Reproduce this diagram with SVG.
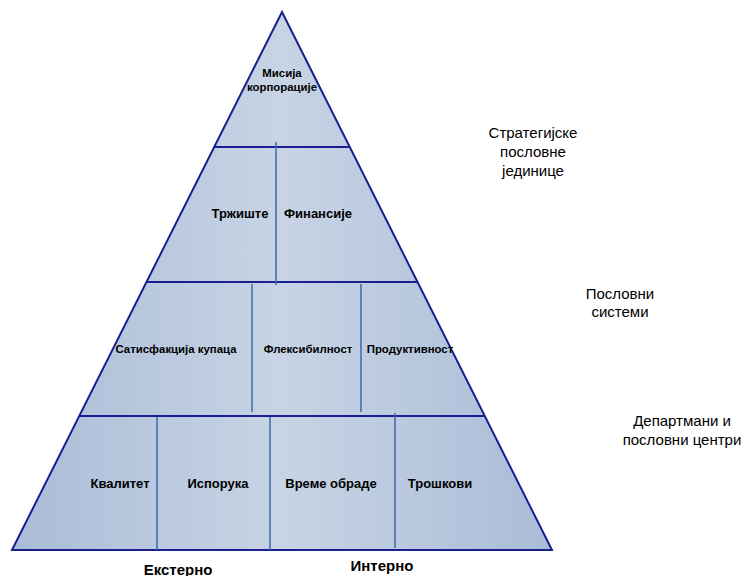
<svg xmlns="http://www.w3.org/2000/svg" width="744" height="576" viewBox="0 0 744 576">
  <defs>
    <linearGradient id="tierFill" gradientUnits="userSpaceOnUse" x1="12" y1="0" x2="552" y2="0">
      <stop offset="0" stop-color="#a9bcd7"/>
      <stop offset="0.5" stop-color="#c8d4e5"/>
      <stop offset="1" stop-color="#a9bcd7"/>
    </linearGradient>
  </defs>
  <style>
    .outline { fill: url(#tierFill); stroke: #1a1f8f; stroke-width: 2; stroke-linejoin: miter; }
    .band { stroke: #1a1f8f; stroke-width: 2; fill: none; }
    .divider { stroke: #3d68ad; stroke-width: 1.5; fill: none; }
    .cell { font-family: "Liberation Sans", Arial, sans-serif; font-weight: bold; fill: #000; text-anchor: middle; }
    .side { font-family: "Liberation Sans", Arial, sans-serif; font-size: 15px; fill: #000; text-anchor: middle; }
  </style>

  <rect width="744" height="576" fill="#ffffff"/>

  <!-- pyramid body -->
  <g id="pyramid">
    <polygon class="outline" points="282,12 552,550 12,550"/>
  </g>

  <!-- level bands and cell dividers -->
  <g id="connectors">
    <line class="band" x1="215" y1="147" x2="349" y2="147"/>
    <line class="band" x1="147" y1="282" x2="417" y2="282"/>
    <line class="band" x1="79" y1="416" x2="485" y2="416"/>

    <line class="divider" x1="276" y1="142" x2="276" y2="285"/>
    <line class="divider" x1="252" y1="284" x2="252" y2="412"/>
    <line class="divider" x1="361" y1="284" x2="361" y2="412"/>
    <line class="divider" x1="157" y1="417" x2="157" y2="550"/>
    <line class="divider" x1="270" y1="417" x2="270" y2="550"/>
    <line class="divider" x1="395" y1="413" x2="395" y2="548"/>
  </g>

  <!-- top level -->
  <g id="mission">
    <text class="cell" font-size="11.4" x="282" y="77">Мисија</text>
    <text class="cell" font-size="11.4" x="282" y="91">корпорације</text>
  </g>

  <!-- second level -->
  <g id="market">
    <text class="cell" font-size="13" x="240" y="218">Тржиште</text>
  </g>
  <g id="finance">
    <text class="cell" font-size="13" x="318" y="218">Финансије</text>
  </g>

  <!-- third level -->
  <g id="customer-satisfaction">
    <text class="cell" font-size="11.4" x="176" y="353">Сатисфакција купаца</text>
  </g>
  <g id="flexibility">
    <text class="cell" font-size="11.4" x="308" y="353">Флексибилност</text>
  </g>
  <g id="productivity">
    <text class="cell" font-size="11.4" x="410" y="353">Продуктивност</text>
  </g>

  <!-- bottom level -->
  <g id="quality">
    <text class="cell" font-size="13" x="120" y="488">Квалитет</text>
  </g>
  <g id="delivery">
    <text class="cell" font-size="13" x="218" y="488">Испорука</text>
  </g>
  <g id="cycle-time">
    <text class="cell" font-size="13" x="331" y="488">Време обраде</text>
  </g>
  <g id="costs">
    <text class="cell" font-size="13" x="440" y="488">Трошкови</text>
  </g>

  <!-- axis labels under the base -->
  <g id="external">
    <text class="cell" font-size="15" x="178" y="575">Екстерно</text>
  </g>
  <g id="internal">
    <text class="cell" font-size="15" x="382" y="571">Интерно</text>
  </g>

  <!-- level captions on the right -->
  <g id="strategic-units">
    <text class="side" x="533" y="138">Стратегијске</text>
    <text class="side" x="533" y="157">пословне</text>
    <text class="side" x="533" y="176">јединице</text>
  </g>
  <g id="business-systems">
    <text class="side" x="620" y="299">Пословни</text>
    <text class="side" x="620" y="317">системи</text>
  </g>
  <g id="departments">
    <text class="side" x="682" y="426">Департмани и</text>
    <text class="side" x="682" y="445">пословни центри</text>
  </g>
</svg>
